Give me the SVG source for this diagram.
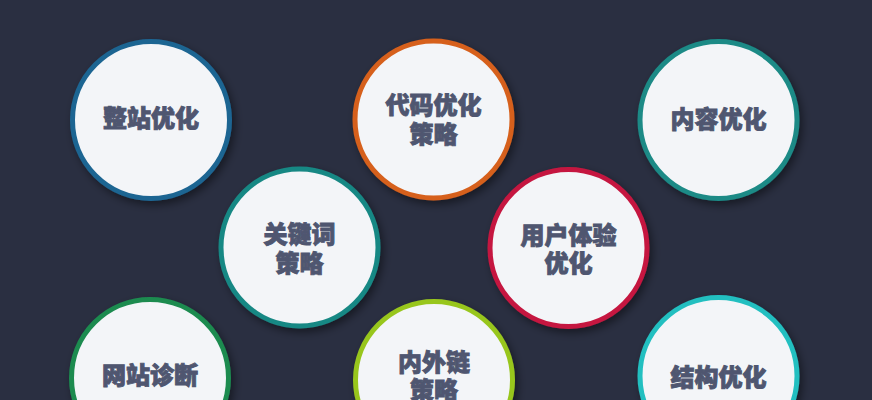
<svg xmlns="http://www.w3.org/2000/svg" width="872" height="400" viewBox="0 0 872 400">
<defs>
<filter id="sh" x="-30%" y="-30%" width="160%" height="160%">
<feDropShadow dx="3" dy="4" stdDeviation="4" flood-color="#000000" flood-opacity="0.45"/>
</filter>
</defs>
<style>
.c{fill:#f3f5f8;stroke-width:5;filter:url(#sh)}
.t{font-family:"Noto Sans CJK SC","Noto Sans",sans-serif;font-weight:900;font-size:24px;fill:#4f5670;stroke:#4f5670;stroke-width:0.9;text-anchor:middle;dominant-baseline:central}
</style>
<rect width="872" height="400" fill="#2a2f41"/>
<g id="connectors"/>
<g id="n1"><circle class="c" cx="151" cy="120" r="78.5" stroke="#1d6592"/><text class="t" x="151" y="116">整站优化</text></g>
<g id="n2"><circle class="c" cx="433.5" cy="119.5" r="78.5" stroke="#d6601c"/><text class="t" x="433.5" y="103.5">代码优化</text><text class="t" x="433.5" y="132">策略</text></g>
<g id="n3"><circle class="c" cx="718.5" cy="120" r="78.5" stroke="#1b8a86"/><text class="t" x="718.5" y="117">内容优化</text></g>
<g id="n4"><circle class="c" cx="299.5" cy="247.5" r="78.5" stroke="#198884"/><text class="t" x="299.5" y="232.5">关键词</text><text class="t" x="299.5" y="261">策略</text></g>
<g id="n5"><circle class="c" cx="568.5" cy="248" r="78.5" stroke="#c5173f"/><text class="t" x="568.5" y="233">用户体验</text><text class="t" x="568.5" y="261.5">优化</text></g>
<g id="n6"><circle class="c" cx="150" cy="378" r="78.5" stroke="#1c8b50"/><text class="t" x="150" y="373">网站诊断</text></g>
<g id="n7"><circle class="c" cx="434" cy="380" r="78.5" stroke="#98c61f"/><text class="t" x="434" y="360">内外链</text><text class="t" x="434" y="388.5">策略</text></g>
<g id="n8"><circle class="c" cx="718.5" cy="376" r="78.5" stroke="#22bfc0"/><text class="t" x="718.5" y="375">结构优化</text></g>
</svg>
